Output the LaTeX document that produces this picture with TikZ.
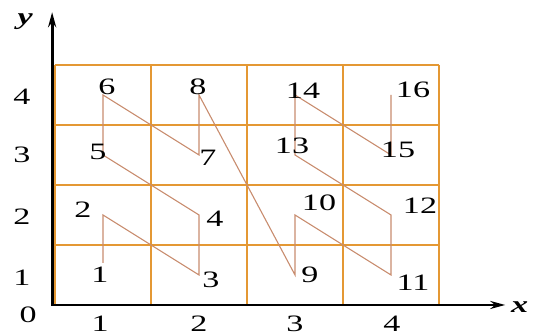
\documentclass[tikz,border=0pt]{standalone}
\usepackage{fontspec}
\setmainfont{Liberation Serif}
\usetikzlibrary{arrows.meta}
\definecolor{gridorange}{RGB}{228,152,52}
\definecolor{pathbrown}{RGB}{200,140,110}
\newcommand{\wide}[1]{\scalebox{1.45}[1]{#1}}
\tikzset{
  cell/.style={gridorange, line width=1.6pt},
  zpath/.style={pathbrown, line width=1.1pt, line join=miter},
  axis/.style={line width=2.8pt, {Stealth[length=15pt,width=8pt]}-{Stealth[length=15pt,width=8pt]}},
  num/.style={inner sep=0pt, font=\fontsize{23.5}{27}\selectfont},
}

\begin{document}
\begin{tikzpicture}[x=96pt,y=60pt]
        \useasboundingbox (-0.573,-0.5) rectangle (5.0,5.083);
        % Draw the grid of cells
        \draw[cell, xstep=1, ystep=1] (0,0) grid (4,4);
        % Axes
        \coordinate (O) at (-0.03,0);
        \coordinate (X) at (4.69,0);
        \coordinate (Y) at (-0.03,4.88);
        \draw[axis] (Y) -- (O) -- (X);
        \node[num, font=\fontsize{23.5}{27}\selectfont\bfseries\itshape] (ylab) at (-0.31,4.72) {\wide{y}};
        \node[num, font=\fontsize{23.5}{27}\selectfont\bfseries\itshape] (xlab) at (4.84,-0.03) {\wide{x}};
        % Tick labels
        \node[num] (t0) at (-0.28,-0.17) {\wide{0}};
        \foreach \k/\v in {1/0.45,2/1.47,3/2.5,4/3.47}
            \node[num] (ty\k) at (-0.344,\v) {\wide{\k}};
        \foreach \k/\u in {1/0.47,2/1.5,3/2.5,4/3.51}
            \node[num] (tx\k) at (\u,-0.31) {\wide{\k}};
        % Corners of the curve
        \coordinate (c1) at (0.5,0.7);
        \coordinate (c2) at (0.5,1.5);
        \coordinate (c3) at (1.5,0.5);
        \coordinate (c4) at (1.5,1.5);
        \coordinate (c5) at (0.5,2.5);
        \coordinate (c6) at (0.5,3.5);
        \coordinate (c7) at (1.5,2.5);
        \coordinate (c8) at (1.5,3.5);
        \coordinate (c9) at (2.5,0.5);
        \coordinate (c10) at (2.5,1.5);
        \coordinate (c11) at (3.5,0.5);
        \coordinate (c12) at (3.5,1.5);
        \coordinate (c13) at (2.5,2.5);
        \coordinate (c14) at (2.5,3.5);
        \coordinate (c15) at (3.5,2.5);
        \coordinate (c16) at (3.5,3.5);
        % Draw the curve
        \draw[zpath] (c1) \foreach \k in {2,...,16}{ -- (c\k)};
        % Number the corners
        \foreach \k/\dx/\dy in {1/-3/-12, 2/-20/5, 3/12/-5, 4/16/-4, 5/-5/3, 6/4/8, 7/9/-3, 8/-1/8,
                                9/15/0, 10/24/12, 11/22/-8, 12/29/9, 13/-3/9, 14/8/4, 15/7/5, 16/22/5}
            \node[num, shift={(\dx pt,\dy pt)}] (n\k) at (c\k) {\wide{\k}};
    \end{tikzpicture}
\end{document}
